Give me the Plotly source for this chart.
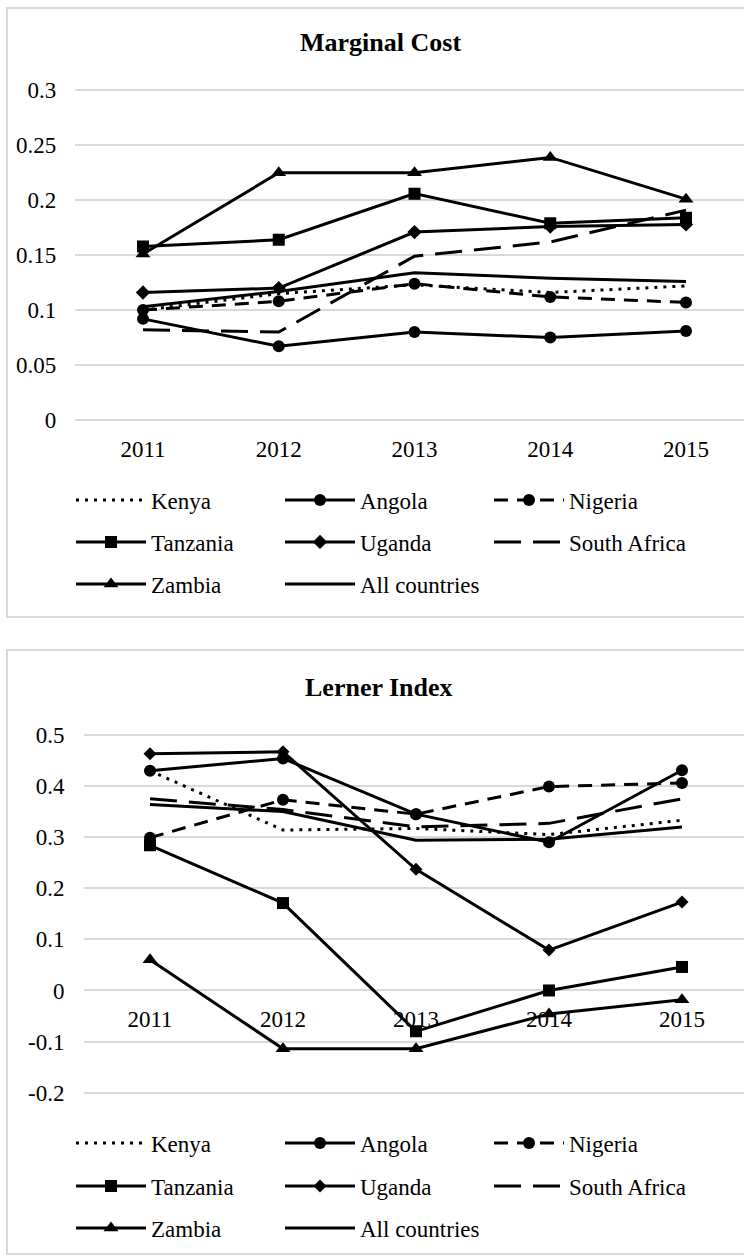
import plotly.graph_objects as go

years = ["2011", "2012", "2013", "2014", "2015"]

# Marginal Cost
mc_kenya = [0.100, 0.115, 0.123, 0.116, 0.122]
mc_angola = [0.092, 0.067, 0.080, 0.075, 0.081]
mc_nigeria = [0.100, 0.108, 0.124, 0.112, 0.107]
mc_tanzania = [0.158, 0.164, 0.206, 0.179, 0.184]
mc_uganda = [0.116, 0.120, 0.171, 0.176, 0.178]
mc_south_africa = [0.082, 0.080, 0.149, 0.162, 0.191]
mc_zambia = [0.151, 0.225, 0.225, 0.239, 0.201]
mc_all = [0.103, 0.117, 0.134, 0.129, 0.126]

# Lerner Index
li_kenya = [0.430, 0.314, 0.317, 0.305, 0.333]
li_angola = [0.430, 0.454, 0.345, 0.290, 0.431]
li_nigeria = [0.299, 0.373, 0.345, 0.399, 0.406]
li_tanzania = [0.284, 0.171, -0.080, 0.000, 0.046]
li_uganda = [0.463, 0.467, 0.237, 0.079, 0.173]
li_south_africa = [0.375, 0.354, 0.320, 0.327, 0.375]
li_zambia = [0.060, -0.114, -0.114, -0.046, -0.018]
li_all = [0.364, 0.350, 0.294, 0.296, 0.320]

names = ["Kenya", "Angola", "Nigeria", "Tanzania", "Uganda", "South Africa", "Zambia", "All countries"]
mc_series = [mc_kenya, mc_angola, mc_nigeria, mc_tanzania, mc_uganda, mc_south_africa, mc_zambia, mc_all]
li_series = [li_kenya, li_angola, li_nigeria, li_tanzania, li_uganda, li_south_africa, li_zambia, li_all]

W, H = 744, 1257
FONT = "'Liberation Serif', 'Times New Roman', serif"
GRID = "#d9d9d9"

# page-to-figure vertical calibration (observed offset/scale of the rendered page)
Y_OFF, Y_SCALE = 7.1, 0.988

styles = {
    "Kenya": dict(dash="3px,6px", symbol=None, size=0),
    "Angola": dict(dash="solid", symbol="circle", size=12),
    "Nigeria": dict(dash="14px,9px", symbol="circle", size=12),
    "Tanzania": dict(dash="solid", symbol="square", size=12),
    "Uganda": dict(dash="solid", symbol="diamond", size=11),
    "South Africa": dict(dash="27px,12px", symbol=None, size=0),
    "Zambia": dict(dash="solid", symbol="triangle-up", size=13),
    "All countries": dict(dash="solid", symbol=None, size=0),
}


def py(p):
    return 1 - ((p - Y_OFF) / Y_SCALE) / H


fig = go.Figure()

top_legends = ["legend", "legend", "legend", "legend2", "legend2", "legend2", "legend3", "legend3"]
bot_legends = ["legend4", "legend4", "legend4", "legend5", "legend5", "legend5", "legend6", "legend6"]

for i, name in enumerate(names):
    st = styles[name]
    mode = "lines+markers" if st["symbol"] else "lines"
    mk = dict(symbol=st["symbol"], size=st["size"], color="black") if st["symbol"] else None
    fig.add_trace(go.Scatter(
        x=years, y=mc_series[i], name=name, mode=mode,
        line=dict(color="black", width=3, dash=st["dash"]),
        marker=mk, xaxis="x", yaxis="y", legend=top_legends[i],
    ))
for i, name in enumerate(names):
    st = styles[name]
    mode = "lines+markers" if st["symbol"] else "lines"
    size = st["size"] - 1 if name == "Uganda" else st["size"]
    mk = dict(symbol=st["symbol"], size=size, color="black") if st["symbol"] else None
    fig.add_trace(go.Scatter(
        x=years, y=li_series[i], name=name, mode=mode,
        line=dict(color="black", width=3, dash=st["dash"]),
        marker=mk, xaxis="x2", yaxis="y2", legend=bot_legends[i],
    ))

tickfont = dict(family=FONT, size=23, color="black")

# top chart geometry (reference pixels)
t_zero, t_top, t_max = 420.0, 90.5, 0.3
t_k = (t_zero - t_top) / t_max
t_r = [-0.005, 0.305]
t_dom = [py(t_zero - (t_r[0]) * t_k), py(t_zero - t_r[1] * t_k)]
t_x0, t_step = 143.0, 135.75

# bottom chart geometry
b_top, b_bot = 735.0, 1092.7
b_k = (b_bot - b_top) / 0.7
b_zero = b_top + 0.5 * b_k
b_r = [-0.21, 0.51]
b_dom = [py(b_zero - b_r[0] * b_k), py(b_zero - b_r[1] * b_k)]
b_x0, b_step = 150.0, 133.0

common_x = dict(type="category", showgrid=False, zeroline=False, showline=False,
                ticks="", tickfont=tickfont, ticklabelstandoff=13, fixedrange=True)
common_y = dict(showgrid=True, gridcolor=GRID, gridwidth=1.5, zeroline=True, zerolinecolor=GRID,
                zerolinewidth=1.5, showline=False, ticks="", tickfont=tickfont,
                ticklabelstandoff=18, fixedrange=True)

fig.update_layout(
    width=W, height=H,
    margin=dict(l=0, r=0, t=0, b=0),
    paper_bgcolor="white", plot_bgcolor="white",
    font=dict(family=FONT, color="black"),
    xaxis=dict(common_x, domain=[(t_x0 - 0.5 * t_step) / W, 1],
               range=[-0.5, (W - t_x0) / t_step], anchor="free", position=py(t_zero)),
    yaxis=dict(common_y, domain=t_dom, range=t_r, tickvals=[0, 0.05, 0.1, 0.15, 0.2, 0.25, 0.3],
               ticktext=["0", "0.05", "0.1", "0.15", "0.2", "0.25", "0.3"], anchor="x"),
    xaxis2=dict(common_x, domain=[(b_x0 - 0.5 * b_step) / W, 1],
                range=[-0.5, (W - b_x0) / b_step], anchor="free", position=py(b_zero)),
    yaxis2=dict(common_y, domain=b_dom, range=b_r, tickvals=[-0.2, -0.1, 0, 0.1, 0.2, 0.3, 0.4, 0.5],
                ticktext=["-0.2", "-0.1", "0", "0.1", "0.2", "0.3", "0.4", "0.5"], anchor="x2"),
    showlegend=True,
)

leg_common = dict(orientation="h", xanchor="left", yanchor="middle", itemwidth=70,
                  entrywidth=124, entrywidthmode="pixels", bgcolor="rgba(0,0,0,0)",
                  font=dict(family=FONT, size=23, color="black"), itemclick=False,
                  itemdoubleclick=False, borderwidth=0, tracegroupgap=0)
leg_x = 71 / W
rows_top = [500, 542, 584]
rows_bot = [1143, 1186, 1228]
fig.update_layout(
    legend=dict(leg_common, x=leg_x, y=py(rows_top[0])),
    legend2=dict(leg_common, x=leg_x, y=py(rows_top[1])),
    legend3=dict(leg_common, x=leg_x, y=py(rows_top[2])),
    legend4=dict(leg_common, x=leg_x, y=py(rows_bot[0])),
    legend5=dict(leg_common, x=leg_x, y=py(rows_bot[1])),
    legend6=dict(leg_common, x=leg_x, y=py(rows_bot[2])),
)

# chart frames
fig.add_shape(type="rect", xref="paper", yref="paper", x0=7 / W, x1=1.05, y0=py(617), y1=py(8),
              line=dict(color=GRID, width=2), layer="below")
fig.add_shape(type="rect", xref="paper", yref="paper", x0=7 / W, x1=1.05, y0=py(1254), y1=py(650),
              line=dict(color=GRID, width=2), layer="below")

fig.add_annotation(text="<b>Marginal Cost</b>", xref="paper", yref="paper", x=380 / W, y=py(43),
                   showarrow=False, font=dict(family=FONT, size=26, color="black"),
                   xanchor="center", yanchor="middle")
fig.add_annotation(text="<b>Lerner Index</b>", xref="paper", yref="paper", x=379 / W, y=py(688),
                   showarrow=False, font=dict(family=FONT, size=26, color="black"),
                   xanchor="center", yanchor="middle")

fig.write_html(
    "out.html",
    config=dict(displayModeBar=False),
    post_script="document.body.style.margin='0';document.body.style.overflow='hidden';",
)
